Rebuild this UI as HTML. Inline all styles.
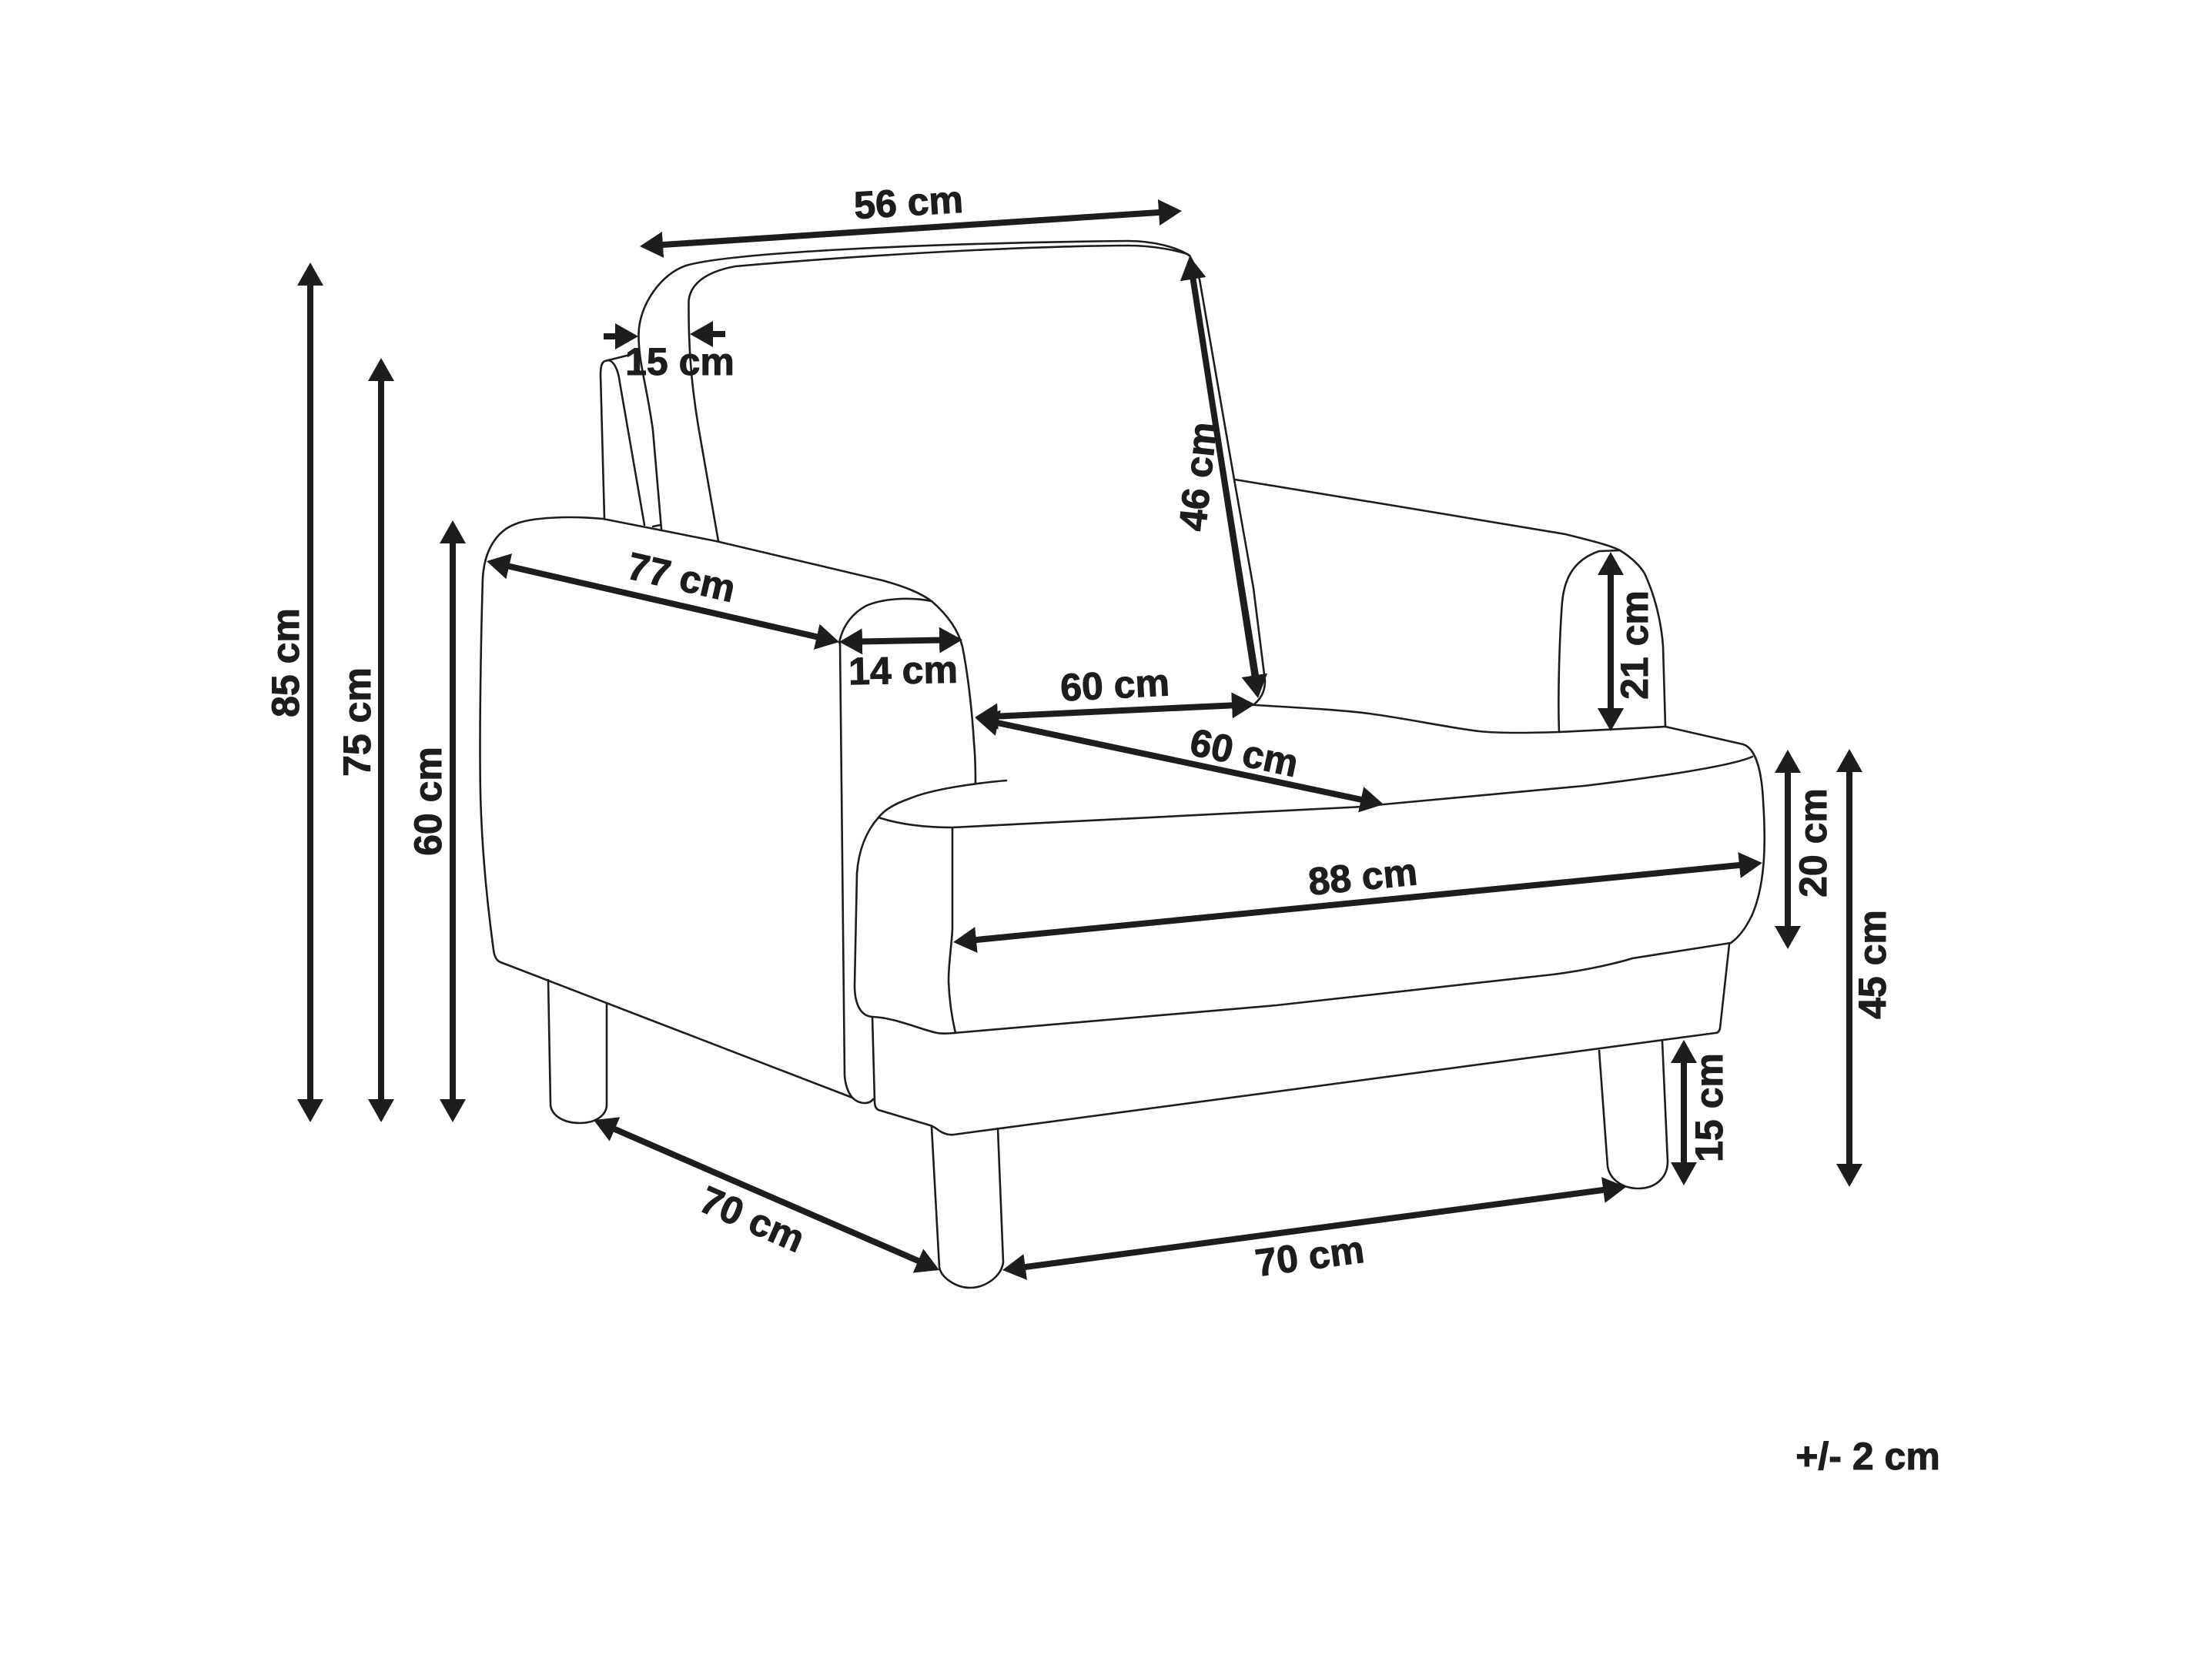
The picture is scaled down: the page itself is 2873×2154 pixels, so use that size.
<!DOCTYPE html>
<html>
<head>
<meta charset="utf-8">
<title>Armchair dimensions</title>
<style>
html,body{margin:0;padding:0;background:#fff;width:2873px;height:2154px;overflow:hidden}
svg{display:block}
.o{fill:none;stroke:#1d1d1b;stroke-width:2.6;stroke-linecap:round;stroke-linejoin:round}
.a{fill:none;stroke:#1d1d1b;stroke-width:8}
text{font-family:"Liberation Sans",sans-serif;font-weight:700;font-size:50px;fill:#1d1d1b;stroke:#1d1d1b;stroke-width:1;text-anchor:middle}
</style>
</head>
<body>
<svg xmlns="http://www.w3.org/2000/svg" width="2873" height="2154" viewBox="0 0 2873 2154">
<defs>
<marker id="h" markerUnits="userSpaceOnUse" markerWidth="34" markerHeight="36" viewBox="0 0 34 36" refX="6" refY="18" orient="auto-start-reverse">
<path d="M0 1 L30 18 L0 35 Z" fill="#1d1d1b"/>
</marker>
</defs>

<!-- back -->
<path class="o" d="M859 687 L848 559 C840 500 829 470 829.5 434 C830 395 860 355 891 345 C950 328 1200 316 1465 313 C1500 313 1530 322 1545 332"/>
<path class="o" d="M933 703 L907 554 C898 500 894 450 894.5 391 C896 372 912 354 955 346 C1080 335 1300 320 1465 319 C1500 319 1530 326 1542 330"/>
<path class="o" d="M1545 332 C1555 350 1558 363 1558 363 L1603 623 L1628 764 L1643 884 C1643 900 1637 908 1628 916"/>
<path class="o" d="M1551 363 L1634 879"/>
<path class="o" d="M785 674 L780 487 C780 475 782 470 786 469 L818 461"/>
<path class="o" d="M789 468 C797 468 803 480 805 497 L837 682"/>
<path class="o" d="M848 684 L858 682"/>

<!-- left arm -->
<path class="o" d="M627 751 C629 715 645 690 669 681 C690 672 740 670 783 674 L930 703 L1146 754 C1175 762 1195 770 1210 781 C1232 800 1245 820 1250 840 C1258 880 1263 930 1265 965 C1267 985 1267 1005 1267 1018"/>
<path class="o" d="M627 751 C624 850 622 1000 625 1060 C628 1130 635 1190 641 1234 C642 1243 645 1248 650 1250 L1107 1426 C1112 1431 1118 1433 1123 1433 C1129 1433 1132 1431 1134 1428"/>
<path class="o" d="M1091 834 L1097 1397 C1098 1410 1102 1420 1107 1426"/>
<path class="o" d="M1090 835 C1095 810 1110 795 1125 787 C1145 778 1180 775 1210 781"/>

<!-- right arm -->
<path class="o" d="M1604 623 L1817 658 L2033 694 C2065 702 2090 708 2104 715 C2120 725 2130 735 2136 745 C2150 775 2158 810 2160 840 L2163 944"/>
<path class="o" d="M2025 951 C2023 900 2026 820 2029 782 C2032 750 2045 727 2077 716 L2104 715"/>

<!-- seat -->
<path class="o" d="M1630 916 C1680 919 1740 922 1778 927 C1830 934 1880 945 1921 950 C1950 953 1990 952 2025 951 L2163 944 L2264 967 C2280 972 2288 1000 2290 1040 C2294 1100 2292 1150 2276 1188 C2268 1205 2258 1218 2248 1225"/>
<path class="o" d="M1307 1014 C1270 1017 1210 1025 1180 1038 C1160 1045 1148 1053 1141 1062 C1125 1080 1115 1105 1113 1135 L1110 1280 C1110 1305 1118 1320 1133 1321 C1160 1322 1190 1335 1213 1341 C1220 1343 1230 1343 1239 1342"/>
<path class="o" d="M1141 1062 C1165 1070 1195 1075 1237 1075 L1770 1048 L1797 1045 L2057 1021 C2150 1010 2250 995 2276 983"/>
<path class="o" d="M1237 1076 L1237 1206 C1236 1230 1232 1250 1232 1275 C1233 1300 1237 1325 1241 1342"/>
<path class="o" d="M1239 1342 L1658 1306 L2017 1266 C2080 1258 2120 1245 2120 1245 L2248 1225"/>

<!-- base -->
<path class="o" d="M2246 1227 L2234 1336 C2233 1340 2231 1342 2228 1342 L1239 1474 C1232 1475 1226 1473 1220 1469 C1216 1466 1212 1463 1208 1462 L1141 1442 C1137 1440 1136 1436 1136 1430 L1133 1321"/>

<!-- legs -->
<path class="o" d="M712 1273 L715 1435 C716 1448 730 1459 753 1459 C775 1459 788 1448 788 1435 L788 1304"/>
<path class="o" d="M1210 1464 L1220 1646 C1222 1660 1242 1673 1260 1673 C1278 1673 1300 1660 1303 1640 L1296 1466"/>
<path class="o" d="M2077 1365 L2088 1515 C2090 1530 2105 1544 2128 1544 C2150 1544 2166 1530 2166 1509 L2159 1353"/>

<!-- arrows -->
<line class="a" x1="855" y1="318.4" x2="1511" y2="275.6" marker-start="url(#h)" marker-end="url(#h)"/>
<line class="a" x1="1548.7" y1="356.7" x2="1630.3" y2="883.3" marker-start="url(#h)" marker-end="url(#h)"/>
<line class="a" x1="655.4" y1="734.4" x2="1066.6" y2="828.6" marker-start="url(#h)" marker-end="url(#h)"/>
<line class="a" x1="1114" y1="833.5" x2="1226" y2="831.5" marker-start="url(#h)" marker-end="url(#h)"/>
<line class="a" x1="1290" y1="930.9" x2="1606" y2="916.1" marker-start="url(#h)" marker-end="url(#h)"/>
<line class="a" x1="1290.5" y1="938" x2="1773.5" y2="1040" marker-start="url(#h)" marker-end="url(#h)"/>
<line class="a" x1="1262" y1="1221.6" x2="2265" y2="1123.4" marker-start="url(#h)" marker-end="url(#h)"/>
<line class="a" x1="2092" y1="741" x2="2092" y2="926" marker-start="url(#h)" marker-end="url(#h)"/>
<line class="a" x1="2322" y1="998" x2="2322" y2="1209" marker-start="url(#h)" marker-end="url(#h)"/>
<line class="a" x1="2402" y1="997" x2="2402" y2="1518" marker-start="url(#h)" marker-end="url(#h)"/>
<line class="a" x1="2187" y1="1375" x2="2187" y2="1516" marker-start="url(#h)" marker-end="url(#h)"/>
<line class="a" x1="403" y1="365" x2="403" y2="1434" marker-start="url(#h)" marker-end="url(#h)"/>
<line class="a" x1="495" y1="489" x2="495" y2="1434" marker-start="url(#h)" marker-end="url(#h)"/>
<line class="a" x1="588" y1="700" x2="588" y2="1434" marker-start="url(#h)" marker-end="url(#h)"/>
<line class="a" x1="793" y1="1464.6" x2="1198" y2="1640.4" marker-start="url(#h)" marker-end="url(#h)"/>
<line class="a" x1="1325.8" y1="1646.8" x2="2088.2" y2="1545.2" marker-start="url(#h)" marker-end="url(#h)"/>
<line class="a" x1="784" y1="437" x2="805" y2="437" marker-end="url(#h)"/>
<line class="a" x1="942" y1="434" x2="920" y2="434" marker-end="url(#h)"/>

<!-- labels -->
<text y="17" transform="translate(1180 263) rotate(-3.5)">56 cm</text>
<text y="17" transform="translate(883 470)">15 cm</text>
<text y="17" transform="translate(1556 619) rotate(-84)">46 cm</text>
<text y="17" transform="translate(885 750) rotate(12.9)">77 cm</text>
<text y="17" transform="translate(1173 871) rotate(-1)">14 cm</text>
<text y="17" transform="translate(1448 890) rotate(-3)">60 cm</text>
<text y="17" transform="translate(1616 978) rotate(12)">60 cm</text>
<text y="17" transform="translate(1770 1139) rotate(-5.6)">88 cm</text>
<text y="17" transform="translate(2123 838) rotate(-90)">21 cm</text>
<text y="17" transform="translate(2355 1095) rotate(-90)">20 cm</text>
<text y="17" transform="translate(2432 1253) rotate(-90)">45 cm</text>
<text y="17" transform="translate(2220 1439) rotate(-90)">15 cm</text>
<text y="17" transform="translate(371 861) rotate(-90)">85 cm</text>
<text y="17" transform="translate(464 938) rotate(-90)">75 cm</text>
<text y="17" transform="translate(556 1041) rotate(-90)">60 cm</text>
<text y="17" transform="translate(977 1584) rotate(23.5)">70 cm</text>
<text y="17" transform="translate(1701 1632) rotate(-7.6)">70 cm</text>
<text y="17" transform="translate(2426 1892)">+/- 2 cm</text>
</svg>
</body>
</html>
